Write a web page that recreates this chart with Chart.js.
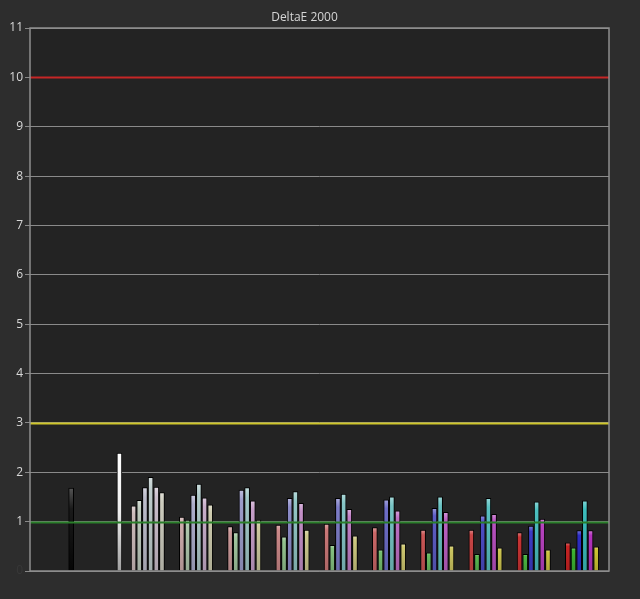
<!DOCTYPE html>
<html>
<head>
<meta charset="utf-8">
<script src="https://cdn.jsdelivr.net/npm/chart.js@4.4.1/dist/chart.umd.min.js"></script>
<style>
  html, body { margin: 0; padding: 0; background: #2d2d2d; }
  #wrap { width: 640px; height: 599px; }
</style>
</head>
<body>
<div id="wrap"><canvas id="chart"></canvas></div>
<script>
// values (DeltaE 2000 per patch)
const blackValue = 1.68;
const whiteValue = 2.39;
const channels = ['R', 'G', 'B', 'C', 'M', 'Y'];
const saturations = [10, 20, 30, 40, 50, 60, 70, 80, 90, 100];
const sat10  = [1.32, 1.43, 1.69, 1.90, 1.70, 1.59];
const sat20  = [1.09, 1.03, 1.54, 1.76, 1.48, 1.34];
const sat30  = [0.90, 0.78, 1.64, 1.69, 1.42, 1.03];
const sat40  = [0.93, 0.69, 1.47, 1.61, 1.37, 0.83];
const sat50  = [0.95, 0.52, 1.47, 1.56, 1.25, 0.71];
const sat60  = [0.88, 0.43, 1.44, 1.50, 1.22, 0.55];
const sat70  = [0.83, 0.37, 1.27, 1.50, 1.19, 0.51];
const sat80  = [0.83, 0.34, 1.12, 1.47, 1.15, 0.47];
const sat90  = [0.78, 0.34, 0.91, 1.40, 1.05, 0.43];
const sat100 = [0.57, 0.47, 0.82, 1.42, 0.82, 0.49];
const satGroups = [sat10, sat20, sat30, sat40, sat50, sat60, sat70, sat80, sat90, sat100];
const yTicks = [0, 1, 2, 3, 4, 5, 6, 7, 8, 9, 10, 11];
const limits = [
  { value: 10, color: '#c62626' },
  { value: 3,  color: '#cfc62a' },
  { value: 1,  color: '#2a7f2a' }
];

// colours: neutral grey mixed toward full channel colour by saturation
const neutral = [205, 205, 205];
const fullColors = {
  R: [200, 35, 35], G: [60, 180, 50], B: [45, 45, 195],
  C: [60, 190, 190], M: [180, 50, 190], Y: [205, 195, 50]
};
function mix(base, s) {
  return neutral.map((n, i) => Math.round(n + (base[i] - n) * s));
}

// slots along x (half-bar units): gap, black, gap, white, then groups of 6
const labels = [];
const values = [];
const kinds = [];
const colors = [];
function gap(n) {
  for (let i = 0; i < n; i++) { labels.push(''); values.push(null); kinds.push(null); colors.push(null); }
}
function bar(label, v, kind, rgb) {
  labels.push(label); values.push(v); kinds.push(kind); colors.push(rgb);
}
gap(14);
bar('Black', blackValue, 'black', [20, 20, 20]);
gap(16);
bar('White', whiteValue, 'white', [250, 250, 250]);
gap(4);
satGroups.forEach((group, g) => {
  group.forEach((v, j) => {
    bar(saturations[g] + '% ' + channels[j], v, 'color', mix(fullColors[channels[j]], saturations[g] / 100));
    if (j < 5) gap(1);
  });
  gap(g < satGroups.length - 1 ? 6 : 4);
});

function rgb(c, f) {
  return 'rgb(' + c.map(x => Math.max(0, Math.min(255, Math.round(x * f)))).join(',') + ')';
}
function lighten(c, t) {
  return 'rgb(' + c.map(x => Math.round(x + (255 - x) * t)).join(',') + ')';
}

const plotFrame = {
  id: 'plotFrame',
  beforeDraw(chart) {
    const { ctx, chartArea: a } = chart;
    ctx.save();
    ctx.fillStyle = '#232323';
    ctx.fillRect(a.left, a.top, a.right - a.left, a.bottom - a.top);
    ctx.restore();
  },
  afterDatasetsDraw(chart) {
    const { ctx, chartArea: a, scales: { y } } = chart;
    ctx.save();
    limits.forEach(l => {
      const py = Math.round(y.getPixelForValue(l.value)) + 0.5;
      ctx.strokeStyle = l.color;
      ctx.lineWidth = 2;
      ctx.beginPath();
      ctx.moveTo(a.left, py);
      ctx.lineTo(a.right, py);
      ctx.stroke();
    });
    ctx.strokeStyle = '#8e8e8e';
    ctx.lineWidth = 1.5;
    ctx.strokeRect(a.left, a.top, a.right - a.left, a.bottom - a.top);
    ctx.restore();
  }
};

new Chart(document.getElementById('chart'), {
  type: 'bar',
  data: {
    labels: labels,
    datasets: [{
      label: 'DeltaE 2000',
      data: values,
      barThickness: 5,
      borderColor: '#000',
      borderWidth: 1,
      borderSkipped: 'bottom',
      backgroundColor(context) {
        const i = context.dataIndex;
        const c = colors[i];
        if (!c) return 'transparent';
        const chart = context.chart;
        const area = chart.chartArea;
        if (!area || !chart.scales.y) return rgb(c, 1);
        const top = chart.scales.y.getPixelForValue(values[i]);
        const grad = chart.ctx.createLinearGradient(0, top, 0, area.bottom);
        if (kinds[i] === 'black') {
          grad.addColorStop(0, '#555');
          grad.addColorStop(0.25, '#1a1a1a');
          grad.addColorStop(1, '#050505');
        } else if (kinds[i] === 'white') {
          grad.addColorStop(0, '#ffffff');
          grad.addColorStop(0.5, '#eeeeee');
          grad.addColorStop(1, '#a0a0a0');
        } else {
          grad.addColorStop(0, lighten(c, 0.35));
          grad.addColorStop(0.12, rgb(c, 1));
          grad.addColorStop(1, rgb(c, 0.85));
        }
        return grad;
      }
    }]
  },
  options: {
    responsive: true,
    maintainAspectRatio: false,
    animation: false,
    layout: { padding: { left: 0, right: 31, top: 0, bottom: 28 } },
    plugins: {
      legend: { display: false },
      tooltip: { enabled: false },
      title: {
        display: true,
        text: 'DeltaE 2000',
        color: '#d6d6d6',
        font: { family: 'Open Sans', size: 12, weight: 'normal' },
        padding: { top: 10, bottom: 3.6 }
      }
    },
    scales: {
      x: {
        display: false,
        grid: { display: false }
      },
      y: {
        min: 0,
        max: 11,
        afterBuildTicks(scale) {
          scale.ticks = yTicks.map(v => ({ value: v }));
        },
        afterFit(scale) { scale.width = 30; },
        border: { display: false },
        grid: {
          color: '#8a8a8a',
          lineWidth: 1,
          tickLength: 5,
          drawTicks: true
        },
        ticks: {
          padding: 2,
          color(ctx) { return ctx.tick.value === 0 ? '#383838' : '#d8d8d8'; },
          font: { family: 'Open Sans', size: 12 }
        }
      }
    }
  },
  plugins: [plotFrame]
});
</script>
</body>
</html>
